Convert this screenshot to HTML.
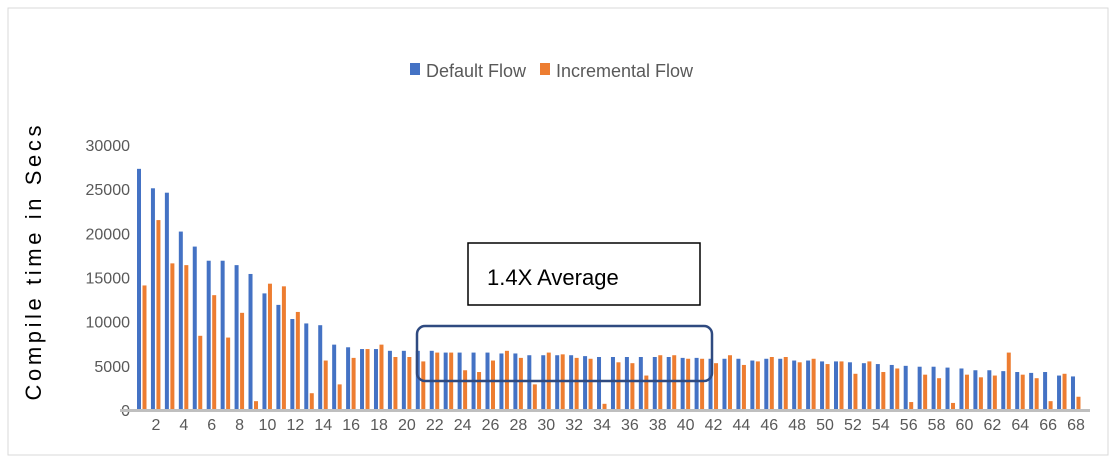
<!DOCTYPE html>
<html><head><meta charset="utf-8"><style>
body{margin:0;background:#fff;}
svg text{font-family:"Liberation Sans",sans-serif;fill:#595959;}
</style></head><body>
<svg width="1117" height="470" viewBox="0 0 1117 470">
<rect x="8" y="8" width="1100" height="447" fill="#fff" stroke="#d9d9d9" stroke-width="1"/>
<g id="yaxis"></g>
<g id="bars"></g>
<g id="xaxis"></g>
<line x1="120" y1="410.5" x2="1090" y2="410.5" stroke="#bfbfbf" stroke-width="3"/>
<text x="41" y="263" transform="rotate(-90 41 263)" text-anchor="middle" font-size="22" textLength="275" lengthAdjust="spacing" style="fill:#000">Compile time in Secs</text>
<g>
<rect x="410" y="63" width="10" height="12" fill="#4472c4"/>
<text x="426" y="77" font-size="18">Default Flow</text>
<rect x="540" y="63" width="10" height="12" fill="#ed7d31"/>
<text x="556" y="77" font-size="18">Incremental Flow</text>
</g>
<rect x="468" y="243" width="232" height="62" fill="#fff" stroke="#000" stroke-width="1.5"/>
<text x="487" y="285" font-size="22" style="fill:#000">1.4X Average</text>
<rect x="417" y="326" width="295" height="55" rx="8" fill="none" stroke="#2f4a80" stroke-width="2.5"/>
</svg>
<script>
const categories = Array.from({length:68},(_,i)=>i+1);
const defaultFlow = [27300,25100,24600,20200,18500,16900,16900,16400,15400,13200,11900,10300,9800,9600,7400,7100,6900,6900,6700,6700,6700,6700,6500,6500,6500,6500,6400,6400,6200,6200,6200,6200,6100,6000,6000,6000,6000,6000,6000,5900,5900,5800,5800,5800,5600,5800,5800,5600,5600,5500,5500,5400,5300,5200,5100,5000,4900,4900,4800,4700,4500,4500,4400,4300,4200,4300,3900,3800];
const incrementalFlow = [14100,21500,16600,16400,8400,13000,8200,11000,1000,14300,14000,11100,1900,5600,2900,5900,6900,7400,6000,6000,5500,6500,6500,4500,4300,5600,6700,5900,2900,6500,6300,5900,5800,700,5400,5300,3900,6200,6200,5800,5800,5300,6200,5100,5500,6000,6000,5400,5800,5200,5500,4100,5500,4300,4700,900,4000,3600,800,4000,3700,3900,6500,4000,3600,1000,4100,1500];
const yTicks = [0,5000,10000,15000,20000,25000,30000];
const NS="http://www.w3.org/2000/svg";
function y(v){return 410 - v/30000*265;}
function xc(i){return 142 + i*13.94;}
const yg=document.getElementById('yaxis'),bg=document.getElementById('bars'),xg=document.getElementById('xaxis');
yTicks.forEach(t=>{
 const e=document.createElementNS(NS,'text');
 e.setAttribute('x',130);e.setAttribute('y',y(t)+6);e.setAttribute('text-anchor','end');e.setAttribute('font-size','16');
 e.textContent=t;
 
 
 yg.appendChild(e);
});
categories.forEach((c,i)=>{
 const b=document.createElementNS(NS,'rect');
 b.setAttribute('x',xc(i)-5);b.setAttribute('width',4);b.setAttribute('y',y(defaultFlow[i]));b.setAttribute('height',410-y(defaultFlow[i]));b.setAttribute('fill','#4472c4');
 
 
 bg.appendChild(b);
 const o=document.createElementNS(NS,'rect');
 o.setAttribute('x',xc(i)+0.5);o.setAttribute('width',4);o.setAttribute('y',y(incrementalFlow[i]));o.setAttribute('height',410-y(incrementalFlow[i]));o.setAttribute('fill','#ed7d31');
 
 
 bg.appendChild(o);
 if(c%2===0){
  const t=document.createElementNS(NS,'text');
  t.setAttribute('x',xc(i));t.setAttribute('y',430);t.setAttribute('text-anchor','middle');t.setAttribute('font-size','16');
  t.textContent=c;
  
  
  xg.appendChild(t);
 }
});
</script>
</body></html>
